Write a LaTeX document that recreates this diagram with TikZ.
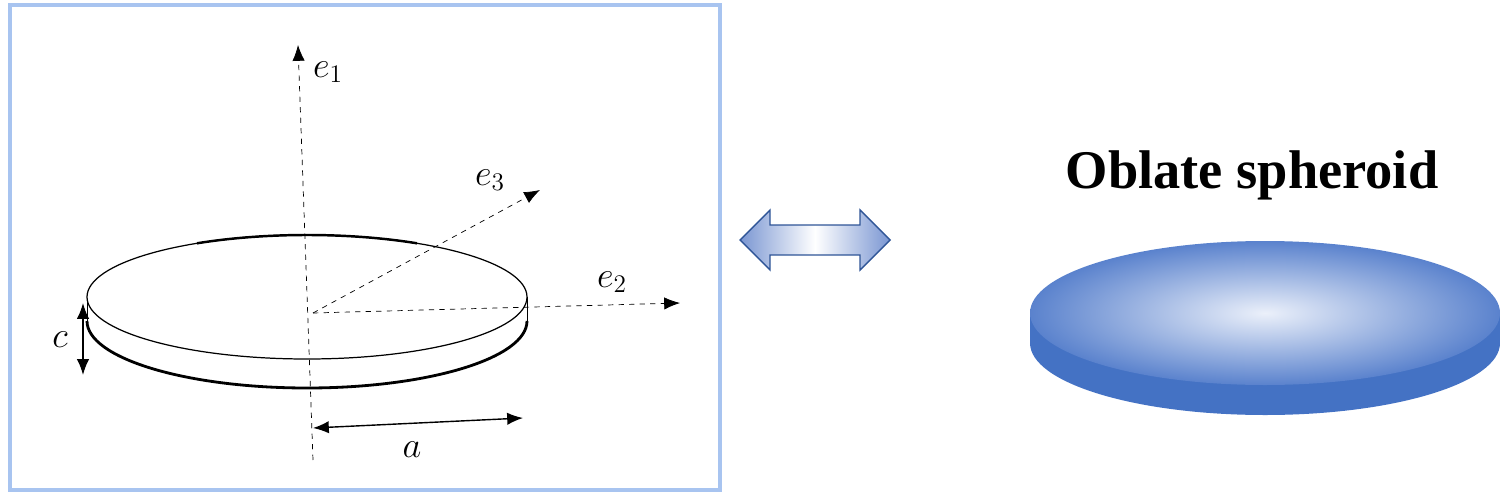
\documentclass[tikz,border=0pt]{standalone}
\usepackage{fontspec}
\setmainfont{Liberation Serif}
\usetikzlibrary{arrows.meta}
\begin{document}
\begin{tikzpicture}[x=0.02cm,y=-0.02cm,
  ax/.style={dashed,thin,-{Latex[length=9pt,width=7pt]}},
  dim/.style={thick,{Latex[length=9pt,width=7pt]}-{Latex[length=9pt,width=7pt]}},
  lab/.style={font=\fontsize{20}{24}\selectfont}]
\useasboundingbox (0,0) rectangle (1500,500);
\draw[line width=2pt,color={rgb,255:red,168;green,196;blue,240}] (10,5) rectangle (720,490);
% disk
\coordinate (o) at (313,313);
\fill[white] (307,321) ellipse[x radius=220,y radius=67];
\draw[line width=1.6pt] (87,321) arc[start angle=180,end angle=0,x radius=220,y radius=67];
\draw[thin] (87,297) -- (87,321) (527,297)--(527,321);
\draw[fill=white,line width=0.7pt] (307,297) ellipse[x radius=220,y radius=62];
\draw[line width=1.4pt] (307,297) ++(240:220 and 62) arc[start angle=240,end angle=300,x radius=220,y radius=62];
\coordinate (t1) at (298,45);\coordinate (bot) at (313,460);
\coordinate (t3) at (540,190);\coordinate (t2) at (680,303);
\draw[ax] (bot) -- (t1);
\draw[ax] (o) -- (t3);
\draw[ax] (o) -- (t2);
\node[lab] (e1) at (328,72) {$e_1$};
\node[lab] (e3) at (490,180) {$e_3$};
\node[lab] (e2) at (612,282) {$e_2$};
\coordinate (c1) at (83,303);\coordinate (c2) at (83,375);
\draw[dim] (c1) -- (c2);
\node[lab] (c) at (60,340) {$c$};
\coordinate (a1) at (313,428);\coordinate (a2) at (523,418);
\draw[dim] (a1) -- (a2);
\node[lab] (a) at (412,450) {$a$};
% double arrow
\draw[draw={rgb,255:red,47;green,85;blue,151},line width=0.8pt,
  left color={rgb,255:red,122;green,150;blue,210},right color={rgb,255:red,122;green,150;blue,210},middle color=white]
  (740,240) -- (770,210) -- (770,225) -- (860,225) -- (860,210) -- (890,240) -- (860,270) -- (860,255) -- (770,255) -- (770,270) -- cycle;
% title
\node[font=\bfseries\fontsize{31}{36}\selectfont] (t) at (1252,175) {Oblate spheroid};
% spheroid
\fill[color={rgb,255:red,68;green,114;blue,196}] (1265,343) ellipse[x radius=235,y radius=72];
\fill[color={rgb,255:red,68;green,114;blue,196}] (1030,313) rectangle (1500,343);
\shade[inner color={rgb,255:red,235;green,240;blue,250},outer color={rgb,255:red,90;green,130;blue,205}] (1265,313) ellipse[x radius=235,y radius=72];
\end{tikzpicture}
\end{document}
